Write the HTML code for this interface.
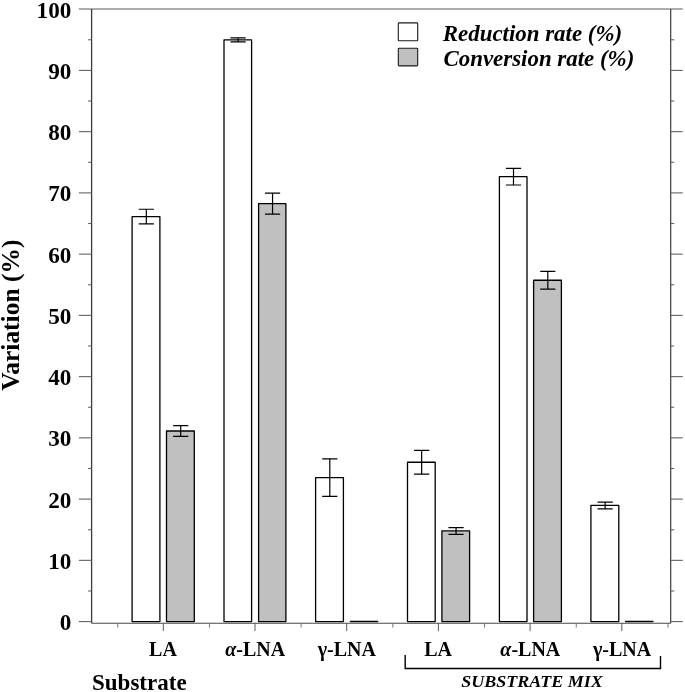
<!DOCTYPE html>
<html><head><meta charset="utf-8"><title>Variation chart</title>
<style>
html,body{margin:0;padding:0;background:#fff;}
svg{display:block;}
text{font-family:"Liberation Serif","DejaVu Serif",serif;font-weight:bold;fill:#000;}
.ax{stroke:#636363;stroke-width:1.1;fill:none;}
.bar{stroke:#000;stroke-width:1.3;stroke-linejoin:round;}
.err{stroke:#000;stroke-width:1.2;fill:none;}
.tl{font-size:24.1px;text-anchor:end;}
.xl{font-size:20px;text-anchor:middle;}
.lg{font-size:22.9px;font-style:italic;}
</style></head><body>
<svg width="685" height="692" viewBox="0 0 685 692">
<rect width="685" height="692" fill="#fff"/>

<g class="ax">
<line x1="78.9" y1="8.95" x2="682.8" y2="8.95" stroke="#5c5c5c"/>
<line x1="91.6" y1="8.95" x2="91.6" y2="623.3" stroke="#3c3c3c" stroke-width="1.3"/>
<line x1="670.7" y1="8.95" x2="670.7" y2="623.3" stroke="#3c3c3c" stroke-width="1.2"/>
<line x1="91.6" y1="623.3" x2="670.7" y2="623.3" stroke="#484848" stroke-width="1.1"/>
<line x1="78.9" y1="621.60" x2="91.6" y2="621.60"/>
<line x1="670.7" y1="621.60" x2="682.8" y2="621.60"/>
<line x1="88.1" y1="590.98" x2="91.6" y2="590.98"/>
<line x1="670.7" y1="590.98" x2="674.2" y2="590.98"/>
<line x1="78.9" y1="560.36" x2="91.6" y2="560.36"/>
<line x1="670.7" y1="560.36" x2="682.8" y2="560.36"/>
<line x1="88.1" y1="529.73" x2="91.6" y2="529.73"/>
<line x1="670.7" y1="529.73" x2="674.2" y2="529.73"/>
<line x1="78.9" y1="499.11" x2="91.6" y2="499.11"/>
<line x1="670.7" y1="499.11" x2="682.8" y2="499.11"/>
<line x1="88.1" y1="468.49" x2="91.6" y2="468.49"/>
<line x1="670.7" y1="468.49" x2="674.2" y2="468.49"/>
<line x1="78.9" y1="437.87" x2="91.6" y2="437.87"/>
<line x1="670.7" y1="437.87" x2="682.8" y2="437.87"/>
<line x1="88.1" y1="407.24" x2="91.6" y2="407.24"/>
<line x1="670.7" y1="407.24" x2="674.2" y2="407.24"/>
<line x1="78.9" y1="376.62" x2="91.6" y2="376.62"/>
<line x1="670.7" y1="376.62" x2="682.8" y2="376.62"/>
<line x1="88.1" y1="346.00" x2="91.6" y2="346.00"/>
<line x1="670.7" y1="346.00" x2="674.2" y2="346.00"/>
<line x1="78.9" y1="315.38" x2="91.6" y2="315.38"/>
<line x1="670.7" y1="315.38" x2="682.8" y2="315.38"/>
<line x1="88.1" y1="284.75" x2="91.6" y2="284.75"/>
<line x1="670.7" y1="284.75" x2="674.2" y2="284.75"/>
<line x1="78.9" y1="254.13" x2="91.6" y2="254.13"/>
<line x1="670.7" y1="254.13" x2="682.8" y2="254.13"/>
<line x1="88.1" y1="223.51" x2="91.6" y2="223.51"/>
<line x1="670.7" y1="223.51" x2="674.2" y2="223.51"/>
<line x1="78.9" y1="192.88" x2="91.6" y2="192.88"/>
<line x1="670.7" y1="192.88" x2="682.8" y2="192.88"/>
<line x1="88.1" y1="162.26" x2="91.6" y2="162.26"/>
<line x1="670.7" y1="162.26" x2="674.2" y2="162.26"/>
<line x1="78.9" y1="131.64" x2="91.6" y2="131.64"/>
<line x1="670.7" y1="131.64" x2="682.8" y2="131.64"/>
<line x1="88.1" y1="101.02" x2="91.6" y2="101.02"/>
<line x1="670.7" y1="101.02" x2="674.2" y2="101.02"/>
<line x1="78.9" y1="70.39" x2="91.6" y2="70.39"/>
<line x1="670.7" y1="70.39" x2="682.8" y2="70.39"/>
<line x1="88.1" y1="39.77" x2="91.6" y2="39.77"/>
<line x1="670.7" y1="39.77" x2="674.2" y2="39.77"/>
<line x1="163.30" y1="623.3" x2="163.30" y2="631.0999999999999" stroke="#4a4a4a" stroke-width="0.9"/>
<line x1="255.00" y1="623.3" x2="255.00" y2="631.0999999999999" stroke="#4a4a4a" stroke-width="0.9"/>
<line x1="346.70" y1="623.3" x2="346.70" y2="631.0999999999999" stroke="#4a4a4a" stroke-width="0.9"/>
<line x1="438.40" y1="623.3" x2="438.40" y2="631.0999999999999" stroke="#4a4a4a" stroke-width="0.9"/>
<line x1="530.10" y1="623.3" x2="530.10" y2="631.0999999999999" stroke="#4a4a4a" stroke-width="0.9"/>
<line x1="621.80" y1="623.3" x2="621.80" y2="631.0999999999999" stroke="#4a4a4a" stroke-width="0.9"/>
<line x1="117.75" y1="623.3" x2="117.75" y2="627.5999999999999" stroke="#666" stroke-width="0.9"/>
<line x1="209.45" y1="623.3" x2="209.45" y2="627.5999999999999" stroke="#666" stroke-width="0.9"/>
<line x1="301.15" y1="623.3" x2="301.15" y2="627.5999999999999" stroke="#666" stroke-width="0.9"/>
<line x1="392.85" y1="623.3" x2="392.85" y2="627.5999999999999" stroke="#666" stroke-width="0.9"/>
<line x1="484.55" y1="623.3" x2="484.55" y2="627.5999999999999" stroke="#666" stroke-width="0.9"/>
<line x1="576.25" y1="623.3" x2="576.25" y2="627.5999999999999" stroke="#666" stroke-width="0.9"/>
<line x1="667.95" y1="623.3" x2="667.95" y2="627.5999999999999" stroke="#666" stroke-width="0.9"/>
</g>
<text class="tl" transform="translate(71.3,630.00) scale(0.962,1)">0</text>
<text class="tl" transform="translate(71.3,568.75) scale(0.962,1)">10</text>
<text class="tl" transform="translate(71.3,507.51) scale(0.962,1)">20</text>
<text class="tl" transform="translate(71.3,446.26) scale(0.962,1)">30</text>
<text class="tl" transform="translate(71.3,385.02) scale(0.962,1)">40</text>
<text class="tl" transform="translate(71.3,323.77) scale(0.962,1)">50</text>
<text class="tl" transform="translate(71.3,262.53) scale(0.962,1)">60</text>
<text class="tl" transform="translate(71.3,201.28) scale(0.962,1)">70</text>
<text class="tl" transform="translate(71.3,140.04) scale(0.962,1)">80</text>
<text class="tl" transform="translate(71.3,78.79) scale(0.962,1)">90</text>
<text class="tl" transform="translate(71.3,17.55) scale(0.962,1)">100</text>
<rect class="bar" x="132.1" y="216.54" width="27.80" height="405.06" fill="#fff"/>
<rect class="bar" x="166.5" y="431.02" width="27.80" height="190.58" fill="#c0c0c0"/>
<rect class="bar" x="224.0" y="39.87" width="27.60" height="581.73" fill="#fff"/>
<rect class="bar" x="258.6" y="203.67" width="27.30" height="417.93" fill="#c0c0c0"/>
<rect class="bar" x="315.6" y="477.59" width="27.80" height="144.01" fill="#fff"/>
<rect class="bar" x="407.5" y="462.27" width="27.70" height="159.33" fill="#fff"/>
<rect class="bar" x="441.9" y="530.91" width="27.70" height="90.69" fill="#c0c0c0"/>
<rect class="bar" x="499.4" y="176.71" width="27.60" height="444.89" fill="#fff"/>
<rect class="bar" x="533.6" y="280.27" width="27.80" height="341.33" fill="#c0c0c0"/>
<rect class="bar" x="590.9" y="505.47" width="27.90" height="116.13" fill="#fff"/>
<path class="err" d="M146.30 209.25V223.83M138.70 209.25h15.2M138.70 223.83h15.2"/>
<path class="err" d="M180.70 425.69V436.35M173.10 425.69h15.2M173.10 436.35h15.2"/>
<path class="err" d="M238.10 37.79V41.95M230.50 37.79h15.2M230.50 41.95h15.2"/>
<path class="err" d="M272.55 193.19V214.15M264.95 193.19h15.2M264.95 214.15h15.2"/>
<path class="err" d="M329.80 458.84V496.34M322.20 458.84h15.2M322.20 496.34h15.2"/>
<path class="err" d="M421.65 450.44V474.10M414.05 450.44h15.2M414.05 474.10h15.2"/>
<path class="err" d="M456.05 527.54V534.28M448.45 527.54h15.2M448.45 534.28h15.2"/>
<path class="err" d="M513.50 168.43V184.98M505.90 168.43h15.2M505.90 184.98h15.2"/>
<path class="err" d="M547.80 271.32V289.22M540.20 271.32h15.2M540.20 289.22h15.2"/>
<path class="err" d="M605.15 502.10V508.84M597.55 502.10h15.2M597.55 508.84h15.2"/>
<line x1="350.4" y1="621.5" x2="377.7" y2="621.5" stroke="#000" stroke-width="1.4" stroke-linecap="round"/>
<line x1="625.6" y1="621.5" x2="652.9" y2="621.5" stroke="#000" stroke-width="1.4" stroke-linecap="round"/>
<text class="xl" x="163.00" y="655.8">LA</text>
<text class="xl" x="255.20" y="655.8"><tspan font-style="italic">α</tspan>-LNA</text>
<text class="xl" x="346.90" y="655.8">γ-LNA</text>
<text class="xl" x="438.10" y="655.8">LA</text>
<text class="xl" x="530.30" y="655.8"><tspan font-style="italic">α</tspan>-LNA</text>
<text class="xl" x="622.00" y="655.8">γ-LNA</text>
<text transform="translate(92,689.9) scale(0.98,1)" style="font-size:23.5px">Substrate</text>
<text transform="translate(532,687.2) scale(1.073,1)" style="font-size:16.8px;font-style:italic;text-anchor:middle">SUBSTRATE MIX</text>
<path d="M405.2 655V668.5H660.5V656" fill="none" stroke="#000" stroke-width="1.4"/>
<rect x="398.3" y="22.9" width="19.4" height="17.8" fill="#fff" stroke="#1a1a1a" stroke-width="1.1" rx="0.8"/>
<rect x="398.3" y="48.3" width="19.4" height="17.6" fill="#c0c0c0" stroke="#1a1a1a" stroke-width="1.1" rx="0.8"/>
<text class="lg" x="442.8" y="41.0">Reduction rate (%)</text>
<text class="lg" x="443.5" y="65.8">Conversion rate (%)</text>
<text transform="translate(19.3,390.8) rotate(-90) scale(0.98,1)" style="font-size:26px">Variation (%)</text>
</svg></body></html>
